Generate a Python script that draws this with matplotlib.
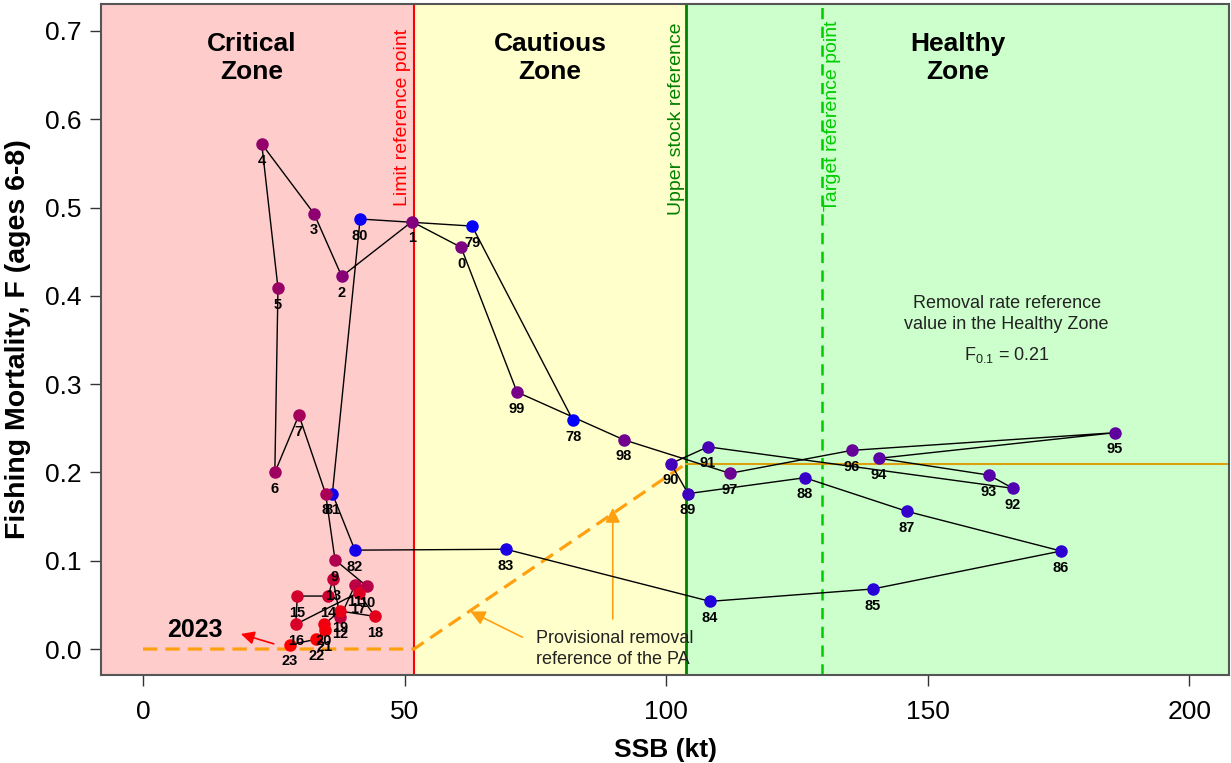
import matplotlib
matplotlib.use("Agg")
import matplotlib.pyplot as plt
from matplotlib.colors import LinearSegmentedColormap
from matplotlib.patches import FancyArrowPatch

plt.rcParams['font.family'] = ['Liberation Sans', 'DejaVu Sans']
plt.rcParams['mathtext.fontset'] = 'custom'
plt.rcParams['mathtext.rm'] = 'Liberation Sans'
plt.rcParams['mathtext.it'] = 'Liberation Sans'

# data: 1978-2023
years = list(range(1978, 2024))
ssb = [82.2, 62.9, 41.5, 36.2, 40.5, 69.4, 108.4, 139.5, 175.5, 146.0,
       126.5, 104.2, 100.9, 108.0, 166.3, 161.7, 140.7, 185.8, 135.5, 112.2,
       91.9, 71.5, 60.8, 51.4, 38.0, 32.7, 22.7, 25.8, 25.2, 29.8,
       34.9, 36.7, 42.8, 40.5, 37.7, 36.3, 35.4, 29.5, 29.2, 41.2,
       44.3, 37.7, 34.6, 34.7, 33.1, 28.1]
fmort = [0.259, 0.479, 0.487, 0.176, 0.112, 0.113, 0.054, 0.068, 0.111, 0.156,
         0.194, 0.176, 0.210, 0.229, 0.182, 0.197, 0.216, 0.245, 0.225, 0.199,
         0.237, 0.291, 0.455, 0.484, 0.422, 0.493, 0.572, 0.409, 0.200, 0.265,
         0.176, 0.101, 0.071, 0.072, 0.036, 0.079, 0.060, 0.060, 0.028, 0.064,
         0.037, 0.043, 0.028, 0.021, 0.011, 0.005]
labels = [str(y % 100) for y in years]

# reference points
blim = 51.8
busr = 103.8
btarget = 129.8
f01 = 0.21

xmin, xmax = -8.03, 207.6
ymin, ymax = -0.0294, 0.7305

fig = plt.figure(figsize=(12.31, 7.63), dpi=100)
ax = fig.add_axes([101/1231, 1 - 675/763, (1229 - 101)/1231, (675 - 4)/763])
ax.set_xlim(xmin, xmax)
ax.set_ylim(ymin, ymax)

# zones
ax.axvspan(xmin, blim, color='#FFCCCC', zorder=0, lw=0)
ax.axvspan(blim, busr, color='#FFFFCC', zorder=0, lw=0)
ax.axvspan(busr, xmax, color='#CCFFCC', zorder=0, lw=0)

ax.axvline(blim, color='#FF0000', lw=1.5, zorder=1)
ax.axvline(busr, color='#008000', lw=2, zorder=1)
ax.axvline(btarget, color='#00CC00', lw=1.8, dashes=(4.5, 3), zorder=1)

ax.text(blim - 2.1, 0.602, 'Limit reference point', rotation=90, color='#FF0000',
        fontsize=14, ha='center', va='center')
ax.text(busr - 1.9, 0.601, 'Upper stock reference', rotation=90, color='#008000',
        fontsize=14, ha='center', va='center')
ax.text(btarget + 2.1, 0.604, 'Target reference point', rotation=90, color='#00CC00',
        fontsize=14, ha='center', va='center')

ax.text(20.8, 0.669, 'Critical\nZone', fontsize=19, fontweight='bold', ha='center', va='center')
ax.text(77.8, 0.669, 'Cautious\nZone', fontsize=19, fontweight='bold', ha='center', va='center')
ax.text(155.8, 0.669, 'Healthy\nZone', fontsize=19, fontweight='bold', ha='center', va='center')

# provisional harvest rule
ax.plot([0, blim, busr], [0, 0, f01], color='#FFA010', lw=2.3, dashes=(4.5, 2.5), zorder=2)
ax.plot([busr, xmax], [f01, f01], color='#DFA010', lw=1.5, zorder=2)

ax.text(165.1, 0.379, 'Removal rate reference\nvalue in the Healthy Zone', fontsize=13,
        ha='center', va='center', color='#222222', linespacing=1.3)
ax.text(165.1, 0.333, r'F$_{0.1}$ = 0.21', fontsize=13, ha='center', va='center',
        color='#222222')

ax.text(75.1, 0.0, 'Provisional removal\nreference of the PA', fontsize=13,
        ha='left', va='center', color='#222222', linespacing=1.3)
ax.add_patch(FancyArrowPatch((73.0, 0.012), (62.1, 0.044), arrowstyle='-|>',
                             mutation_scale=22, color='#FFA010', lw=1.2, zorder=3))
ax.add_patch(FancyArrowPatch((89.8, 0.031), (89.8, 0.163), arrowstyle='-|>',
                             mutation_scale=22, color='#FFA010', lw=1.2, zorder=3))

ax.text(9.9, 0.0215, '2023', fontsize=18, fontweight='bold', ha='center', va='center')
ax.add_patch(FancyArrowPatch((25.5, 0.005), (18.2, 0.018), arrowstyle='-|>',
                             mutation_scale=20, color='#FF0000', lw=1.2, zorder=3))

# trajectory
cmap = LinearSegmentedColormap.from_list('yr', ['#0000FF', '#FF0000'])
ax.plot(ssb, fmort, color='black', lw=1, zorder=4)
n = len(years)
for i in range(n):
    ax.plot(ssb[i], fmort[i], 'o', ms=8, color=cmap(i / (n - 1)), zorder=5)
    ax.annotate(labels[i], (ssb[i], fmort[i]), xytext=(0, -12), textcoords='offset points',
                ha='center', va='center', fontsize=10.5, fontweight='bold', zorder=6)

ax.set_xticks([0, 50, 100, 150, 200])
ax.set_yticks([0.0, 0.1, 0.2, 0.3, 0.4, 0.5, 0.6, 0.7])
ax.set_yticklabels(['0.0', '0.1', '0.2', '0.3', '0.4', '0.5', '0.6', '0.7'])
ax.tick_params(axis='both', labelsize=19, length=8, width=1, color='#333333', pad=6)
ax.tick_params(axis='x', pad=10)
for s in ax.spines.values():
    s.set_color('#555555')
    s.set_linewidth(1.5)

ax.set_xlabel('SSB (kt)', fontsize=19, fontweight='bold', labelpad=10)
ax.set_ylabel('Fishing Mortality, F (ages 6-8)', fontsize=20.5, fontweight='bold', labelpad=10)

fig.savefig('out.png', dpi=100)
